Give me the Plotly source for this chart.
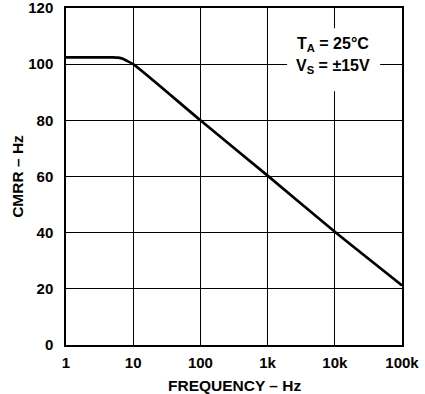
import plotly.graph_objects as go

freq = [1, 3, 5, 6, 7, 8, 10, 100, 1000, 10000, 100000]
cmrr = [102.4, 102.4, 102.4, 102.3, 101.9, 101.2, 100.0, 80.0, 60.3, 40.3, 21.2]

x_tickvals = [1, 10, 100, 1000, 10000, 100000]
x_ticktext = ["1", "10", "100", "1k", "10k", "100k"]
y_tickvals = [0, 20, 40, 60, 80, 100, 120]

FONT = "Liberation Sans, Arial, Helvetica, sans-serif"

fig = go.Figure()
fig.add_trace(go.Scatter(x=freq, y=cmrr, mode="lines",
                         line=dict(color="black", width=2.7, shape="spline", smoothing=0.6),
                         showlegend=False, hoverinfo="skip"))

axis_common = dict(showline=True, linecolor="black", linewidth=1.5, mirror=True,
                   showgrid=True, gridcolor="black", gridwidth=1.3,
                   ticks="", zeroline=False, automargin=False,
                   ticklabeloverflow="allow",
                   tickfont=dict(family=FONT, size=15, color="black", weight="bold"))

fig.update_xaxes(type="log", range=[0, 5], tickvals=x_tickvals, ticktext=x_ticktext,
                 ticklabelstandoff=3, **axis_common)
fig.update_yaxes(range=[0, 120], tickvals=y_tickvals,
                 title=dict(text="CMRR – Hz", font=dict(family=FONT, size=15.5, color="black", weight="bold"),
                            standoff=1),
                 ticklabelstandoff=8, **axis_common)

# x-axis title
fig.add_annotation(xref="paper", yref="paper", x=0.5, y=-0.119, showarrow=False,
                   text="FREQUENCY – Hz",
                   font=dict(family=FONT, size=15.5, color="black", weight="bold"),
                   xanchor="center", yanchor="middle")

fig.add_shape(type="rect", xref="paper", yref="paper", x0=0.658, x1=0.935, y0=0.753, y1=0.940,
              fillcolor="white", line=dict(width=0), layer="above")
fig.add_annotation(xref="paper", yref="paper", x=0.795, y=0.893, showarrow=False,
                   text="T<sub>A</sub> = 25°C",
                   font=dict(family=FONT, size=16, color="black", weight="bold"),
                   xanchor="center", yanchor="middle")
fig.add_annotation(xref="paper", yref="paper", x=0.795, y=0.826, showarrow=False,
                   text="V<sub>S</sub> = ±15V",
                   font=dict(family=FONT, size=16, color="black", weight="bold"),
                   xanchor="center", yanchor="middle")

fig.update_layout(width=425, height=394, margin=dict(l=66, r=23, t=8, b=49),
                  plot_bgcolor="white", paper_bgcolor="white")

fig.write_html("out.html", config={"displayModeBar": False},
               post_script="document.body.style.margin='0px';")
